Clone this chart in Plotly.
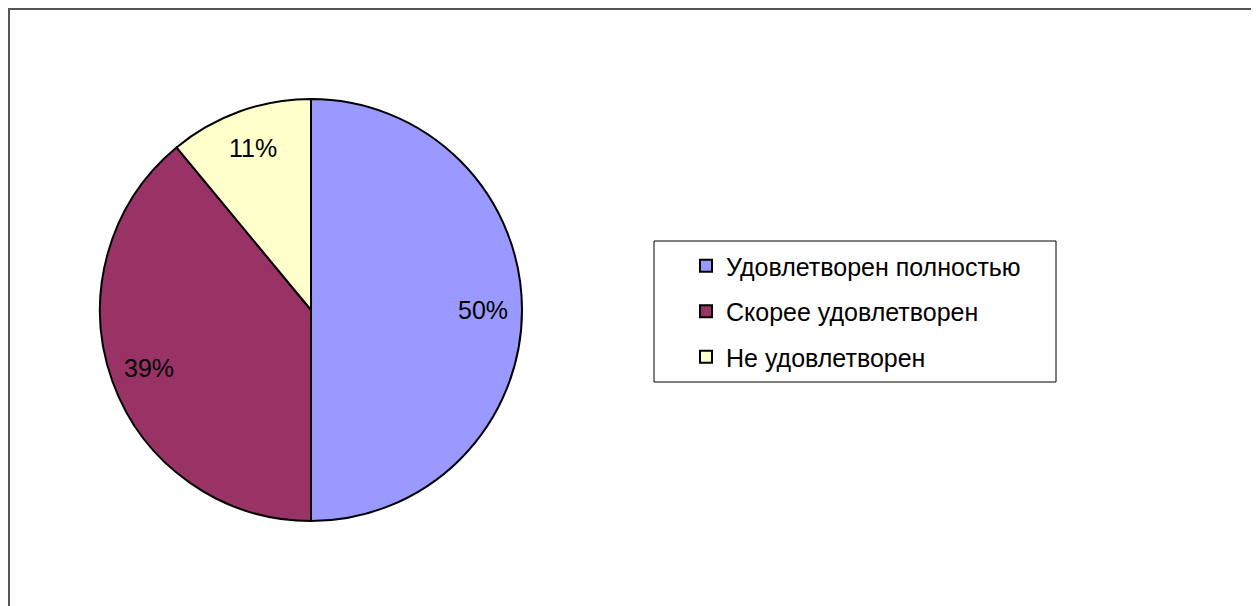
import math
import plotly.graph_objects as go

labels = ["Удовлетворен полностью", "Скорее удовлетворен", "Не удовлетворен"]
values = [50, 39, 11]
colors = ["#9999FF", "#993366", "#FFFFCC"]

W, H = 1259, 606
OFF = 8  # page body margin


def px(x):
    return (x - OFF) / W


def py(y):
    return (H - (y - OFF)) / H


CX, CY, R = 311, 310, 211
LABEL_R = 0.815 * R

fig = go.Figure()
fig.add_trace(go.Pie(
    labels=labels, values=values, sort=False, direction="clockwise", rotation=0,
    marker=dict(colors=colors, line=dict(color="black", width=2)),
    textinfo="none",
    domain=dict(x=[px(CX - R), px(CX + R)], y=[py(CY + R), py(CY - R)]),
    showlegend=False, hoverinfo="label+percent",
))

# percentage labels placed along each slice's mid-angle
total = sum(values)
cum = 0
annotations = []
for v in values:
    mid = (cum + v / 2) / total * 2 * math.pi
    cum += v
    x = CX + LABEL_R * math.sin(mid)
    y = CY - LABEL_R * math.cos(mid)
    annotations.append(dict(
        x=px(x), y=py(y), xref="paper", yref="paper", showarrow=False,
        text=f"{round(v / total * 100)}%",
        font=dict(family="Liberation Sans, Arial", size=25, color="black"),
        xanchor="center", yanchor="middle",
    ))

for lab, col in zip(labels, colors):
    fig.add_trace(go.Scatter(
        x=[None], y=[None], mode="markers", name=lab, legendgroup=lab,
        marker=dict(symbol="square", size=12, color=col, line=dict(color="black", width=2)),
    ))

fig.update_layout(
    width=W, height=H, margin=dict(l=0, r=0, t=0, b=0),
    paper_bgcolor="white", plot_bgcolor="white",
    xaxis=dict(visible=False), yaxis=dict(visible=False),
    legend=dict(x=px(686), y=py(243), xanchor="left", yanchor="top",
                font=dict(family="Liberation Sans, Arial", size=25, color="black"),
                tracegroupgap=10, bgcolor="rgba(0,0,0,0)", borderwidth=0,
                itemsizing="trace"),
    annotations=annotations,
    shapes=[
        dict(type="rect", xref="paper", yref="paper", x0=px(9), x1=px(1253), y0=-0.2, y1=py(9),
             line=dict(color="#555555", width=2)),
        dict(type="rect", xref="paper", yref="paper", x0=px(654), x1=px(1056), y0=py(382), y1=py(241),
             line=dict(color="black", width=1)),
    ],
)

fig.write_html("out.html")
